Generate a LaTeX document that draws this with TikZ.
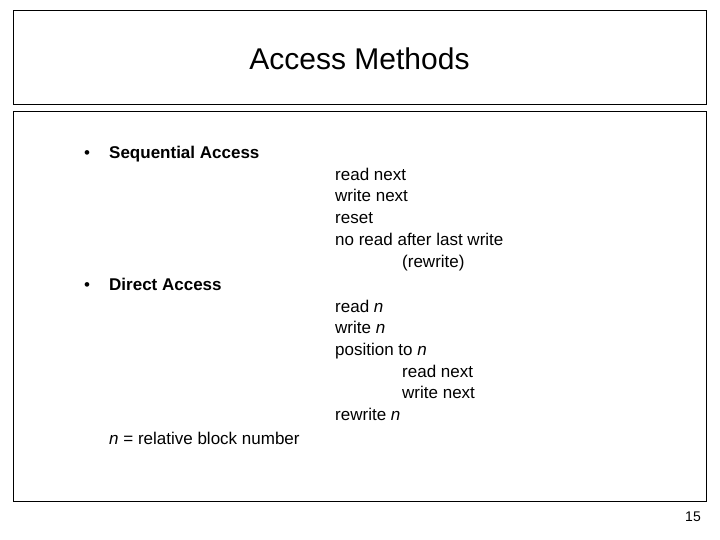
\documentclass[tikz,border=0pt]{standalone}
\usepackage{fontspec}
\setmainfont{Liberation Sans}
\begin{document}
\begin{tikzpicture}[x=1pt,y=-1pt,
  txt/.style={anchor=base west,inner sep=0pt,font=\fontsize{17}{20}\selectfont},
  frame/.style={draw=black,line width=0.8pt}]
\useasboundingbox (0,0) rectangle (720,540);
\draw[frame] (13,10) rectangle (706,104);
\draw[frame] (13,111) rectangle (706,501);
\node[anchor=base,inner sep=0pt,font=\fontsize{30}{34}\selectfont] (title) at (359.5,70) {Access Methods};
\node[txt] (b1) at (84,159) {•};
\node[txt,font=\fontsize{17}{20}\selectfont\bfseries] (s) at (109,159) {Sequential Access};
\node[txt] (r1) at (335,181) {read next};
\node[txt] (r2) at (335,202) {write next};
\node[txt] (r3) at (335,224) {reset};
\node[txt] (r4) at (335,245) {no read after last write};
\node[txt] (r5) at (402,267) {(rewrite)};
\node[txt] (b2) at (84,290) {•};
\node[txt,font=\fontsize{17}{20}\selectfont\bfseries] (d) at (109,290) {Direct Access};
\node[txt] (d1) at (335,312) {read \textit{n}};
\node[txt] (d2) at (335,333) {write \textit{n}};
\node[txt] (d3) at (335,355) {position to \textit{n}};
\node[txt] (d4) at (402,377) {read next};
\node[txt] (d5) at (402,398) {write next};
\node[txt] (d6) at (335,420) {rewrite \textit{n}};
\node[txt] (nn) at (109,444) {\textit{n} = relative block number};
\node[anchor=base east,inner sep=0pt,font=\fontsize{14}{16}\selectfont] (pg) at (701,521) {15};
\end{tikzpicture}
\end{document}
